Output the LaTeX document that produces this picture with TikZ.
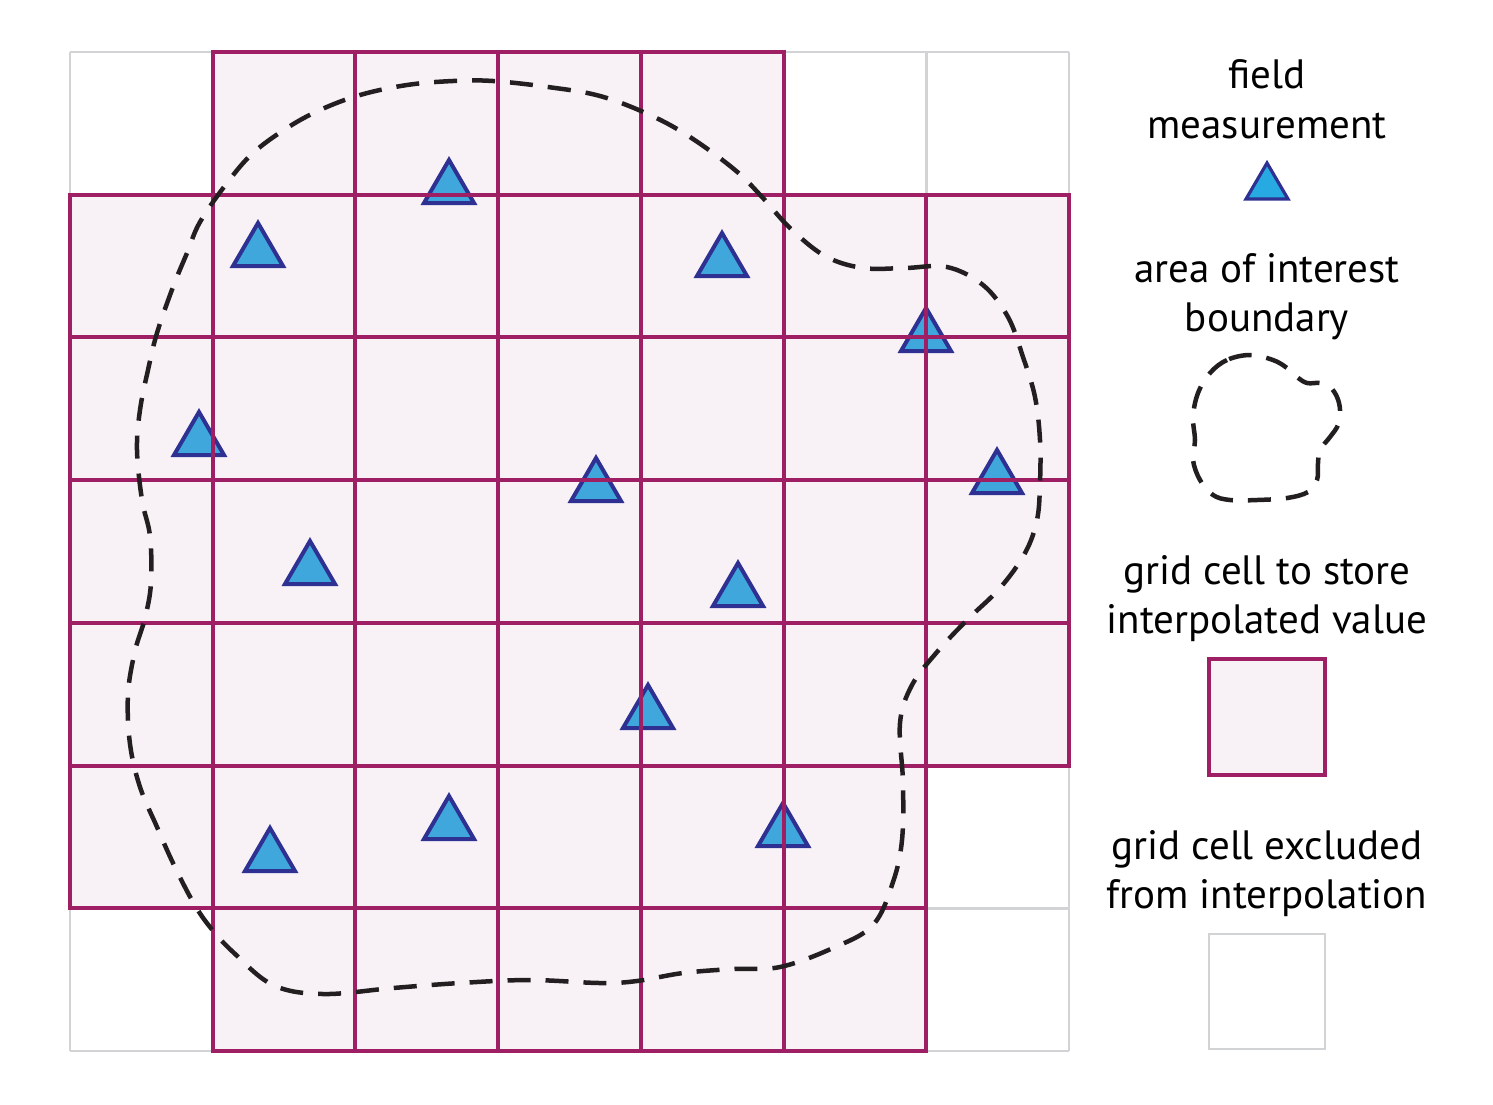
\documentclass[tikz,border=0pt]{standalone}
\usepackage{fontspec}
\setmainfont{PT Sans}
\definecolor{mag}{HTML}{9E1F63}
\definecolor{pinkfill}{HTML}{F8F2F7}
\definecolor{gridgrey}{HTML}{D1D3D4}
\definecolor{trifill}{HTML}{3FA7DB}
\definecolor{trifillleg}{HTML}{27AAE1}
\definecolor{trioutline}{HTML}{2E3192}
\definecolor{dashcol}{HTML}{231F20}
\tikzset{
  greyline/.style={draw=gridgrey, line width=2.5pt},
  pinkcell/.style={fill=pinkfill},
  magline/.style={draw=mag, line width=4pt},
  tri/.style={fill=trifill, draw=trioutline, line width=4pt, line join=miter},
  trileg/.style={fill=trifillleg, draw=trioutline, line width=3.2pt, line join=miter},
  boundary/.style={draw=dashcol, line width=4.5pt, dash pattern=on 23pt off 15pt},
  legtext/.style={font=\fontsize{41}{48}\selectfont, anchor=base, inner sep=0pt},
}
\begin{document}
\begin{tikzpicture}[x=1pt,y=-1pt]
\useasboundingbox (0,0) rectangle (1493,1104);
\fill[white] (0,0) rectangle (1493,1104);
\def\cs{142.714}
% grey full grid
\foreach \i in {0,...,7} {
  \draw[greyline] (70+\i*\cs,52) -- (70+\i*\cs,1051);
  \draw[greyline] (70,52+\i*\cs) -- (1069,52+\i*\cs);
}
% pink cells (col,row)
\def\cells{1/0,2/0,3/0,4/0,
  0/1,1/1,2/1,3/1,4/1,5/1,6/1,
  0/2,1/2,2/2,3/2,4/2,5/2,6/2,
  0/3,1/3,2/3,3/3,4/3,5/3,6/3,
  0/4,1/4,2/4,3/4,4/4,5/4,6/4,
  0/5,1/5,2/5,3/5,4/5,5/5,
  1/6,2/6,3/6,4/6,5/6}
\foreach \c/\r in \cells {
  \fill[pinkcell] (70+\c*\cs,52+\r*\cs) rectangle (70+\c*\cs+\cs,52+\r*\cs+\cs);
}
% triangles (base centre)
\foreach \x/\y in {258/266,449/203,722/276,926/351,997/493,199/455,596/501,
  310/584,738/606,648/728,449/839,270/871,783/846} {
  \draw[tri] (\x-25,\y) -- (\x,\y-43) -- (\x+25,\y) -- cycle;
}
% magenta cell borders
\foreach \c/\r in \cells {
  \draw[magline] (70+\c*\cs,52+\r*\cs) rectangle (70+\c*\cs+\cs,52+\r*\cs+\cs);
}
% area of interest boundary
\draw[boundary] plot[smooth cycle, tension=0.6] coordinates {
 (493,81) (548,87) (600,96) (650,115) (690,137) (735,170) (763,198) (790,228)
 (825,256) (863,268) (905,268) (947,267) (983,285) (1008,317) (1023,357)
 (1035,397) (1040,440) (1040,483) (1037,520) (1025,553) (1000,588) (967,620)
 (937,652) (912,685) (900,723) (903,783) (902,840) (893,882) (873,925)
 (833,948) (780,967) (733,969) (683,973) (637,981) (600,983) (530,980)
 (460,983) (393,988) (323,994) (273,985) (233,952) (210,927) (193,902)
 (173,863) (157,827) (140,787) (130,744) (128,694) (135,651) (145,618)
 (151,583) (150,536) (142,500) (137,450) (140,410) (148,370) (157,333)
 (173,287) (187,253) (200,222) (227,183) (253,153) (287,128) (320,110)
 (360,95) (407,85) (453,81)};
% legend
\node[legtext] (l1a) at (1267,88) {field};
\node[legtext] (l1b) at (1267,138) {measurement};
\draw[trileg] (1246,199) -- (1267,163) -- (1288,199) -- cycle;
\node[legtext] (l2a) at (1267,282) {area of interest};
\node[legtext] (l2b) at (1267,331) {boundary};
\draw[boundary] plot[smooth cycle, tension=0.6] coordinates {
 (1250,355) (1227,360) (1210,373) (1198,393) (1193,417) (1195,440) (1193,460)
 (1200,480) (1213,495) (1230,500) (1257,500) (1287,498) (1308,492) (1317,480)
 (1318,463) (1320,450) (1330,437) (1338,425) (1340,410) (1337,397) (1330,387)
 (1320,383) (1307,383) (1297,377) (1287,368) (1273,360)};
\node[legtext] (l3a) at (1267,584) {grid cell to store};
\node[legtext] (l3b) at (1267,633) {interpolated value};
\draw[pinkcell, magline] (1209,659) rectangle (1325,775);
\node[legtext] (l4a) at (1267,859) {grid cell excluded};
\node[legtext] (l4b) at (1267,908) {from interpolation};
\draw[greyline] (1209,934) rectangle (1325,1049);
\end{tikzpicture}
\end{document}
